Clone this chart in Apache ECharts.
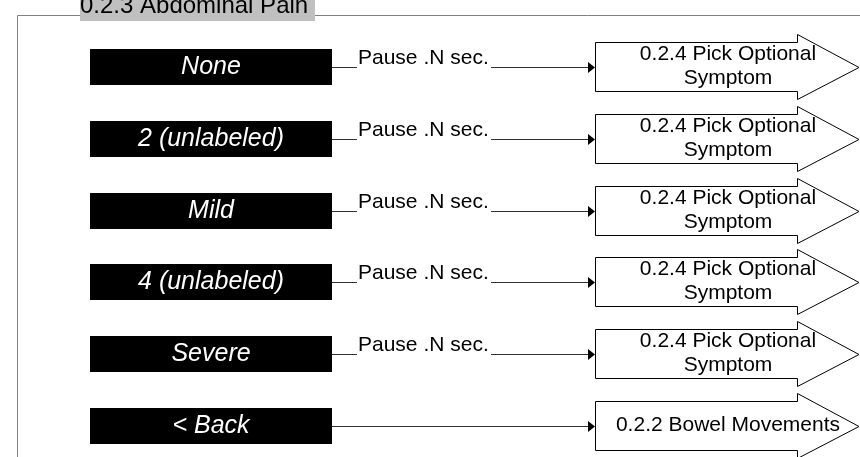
<!DOCTYPE html>
<html>
<head>
<meta charset="utf-8">
<script src="https://cdn.jsdelivr.net/npm/echarts@6/dist/echarts.min.js"></script>
<style>
  html, body { margin: 0; padding: 0; background: #fff; }
  #chart { width: 860px; height: 457px; }
</style>
</head>
<body>
<div id="chart"></div>
<script>
// diagram content
const screenTitle = '0.2.3 Abdominal Pain'
const options = ['None', '2 (unlabeled)', 'Mild', '4 (unlabeled)', 'Severe', '< Back']
const pauses = ['Pause .N sec.', 'Pause .N sec.', 'Pause .N sec.', 'Pause .N sec.', 'Pause .N sec.', '']
const targets = [
  '0.2.4 Pick Optional\nSymptom',
  '0.2.4 Pick Optional\nSymptom',
  '0.2.4 Pick Optional\nSymptom',
  '0.2.4 Pick Optional\nSymptom',
  '0.2.4 Pick Optional\nSymptom',
  '0.2.2 Bowel Movements'
]

const FONT = '"Liberation Sans", Arial, sans-serif'
const LINE = '#333'

const chart = echarts.init(document.getElementById('chart'), null, { renderer: 'canvas' })

function renderRow(params, api) {
  const i = params.dataIndex
  const cy = Math.round(api.coord([0, api.value(1)])[1])
  const ly = cy + 0.5
  const children = []

  // black option button
  children.push({
    type: 'rect',
    shape: { x: 90, y: cy - 18, width: 242, height: 36 },
    style: { fill: '#000' }
  })
  children.push({
    type: 'text',
    style: {
      text: options[i], x: 211, y: cy,
      fill: '#fff', font: 'italic 25px ' + FONT,
      align: 'center', verticalAlign: 'middle'
    }
  })

  // connector
  if (pauses[i]) {
    children.push({ type: 'line', shape: { x1: 332, y1: ly, x2: 357, y2: ly }, style: { stroke: LINE, lineWidth: 1 } })
    children.push({
      type: 'text',
      style: {
        text: pauses[i], x: 358, y: cy - 9,
        fill: '#000', font: '21px ' + FONT,
        align: 'left', verticalAlign: 'middle'
      }
    })
    children.push({ type: 'line', shape: { x1: 491, y1: ly, x2: 589, y2: ly }, style: { stroke: LINE, lineWidth: 1 } })
  } else {
    children.push({ type: 'line', shape: { x1: 332, y1: ly, x2: 589, y2: ly }, style: { stroke: LINE, lineWidth: 1 } })
  }
  children.push({
    type: 'polygon',
    shape: { points: [[588, cy - 5], [588, cy + 6], [595, ly]] },
    style: { fill: '#000' }
  })

  // block arrow with target
  children.push({
    type: 'polygon',
    shape: {
      points: [
        [595.5, cy - 24.5], [797.5, cy - 24.5], [797.5, cy - 32.5], [859, ly],
        [797.5, cy + 32.5], [797.5, cy + 24.5], [595.5, cy + 24.5]
      ]
    },
    style: { fill: '#fff', stroke: '#000', lineWidth: 1 }
  })
  children.push({
    type: 'text',
    style: {
      text: targets[i], x: 728, y: cy - 1,
      fill: '#000', font: '21px ' + FONT, lineHeight: 24,
      align: 'center', verticalAlign: 'middle'
    }
  })

  return { type: 'group', children: children }
}

chart.setOption({
  animation: false,
  backgroundColor: '#fff',
  grid: { left: 0, right: 0, top: 67, bottom: 31 },
  xAxis: { type: 'value', min: 0, max: 1, show: false },
  yAxis: {
    type: 'category',
    data: options,
    inverse: true,
    boundaryGap: false,
    show: false
  },
  graphic: [
    {
      type: 'polyline',
      shape: { points: [[80, 15.5], [17.5, 15.5], [17.5, 457]] },
      style: { stroke: '#808080', lineWidth: 1, fill: null }
    },
    {
      type: 'line',
      shape: { x1: 315, y1: 15.5, x2: 860, y2: 15.5 },
      style: { stroke: '#808080', lineWidth: 1 }
    },
    {
      type: 'rect',
      shape: { x: 80, y: 0, width: 235, height: 21 },
      style: { fill: '#c0c0c0' }
    },
    {
      type: 'text',
      style: {
        text: screenTitle, x: 80, y: 6,
        fill: '#000', font: '24px ' + FONT,
        align: 'left', verticalAlign: 'middle'
      }
    }
  ],
  series: [{
    type: 'custom',
    clip: false,
    silent: true,
    renderItem: renderRow,
    data: options.map((name, i) => [0, i])
  }]
})
</script>
</body>
</html>
